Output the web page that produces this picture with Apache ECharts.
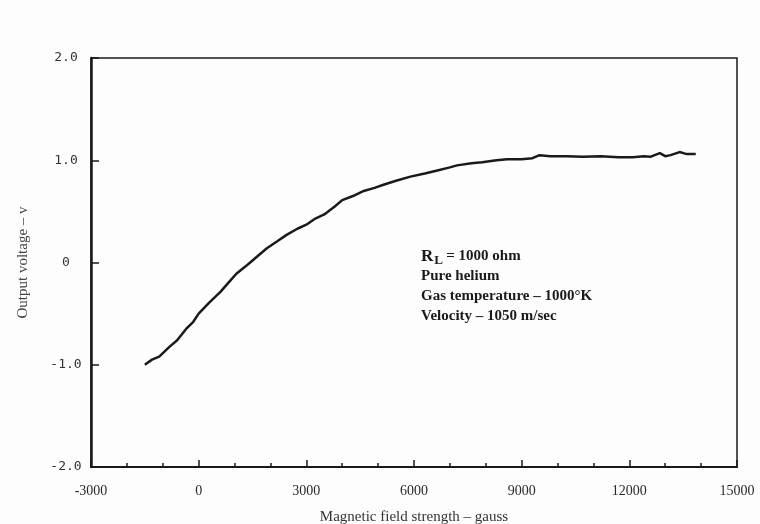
<!DOCTYPE html>
<html>
<head>
<meta charset="utf-8">
<script src="https://cdn.jsdelivr.net/npm/echarts@6/dist/echarts.min.js"></script>
<style>html,body{margin:0;padding:0;background:#fdfdfd;}#c{width:760px;height:524px;}</style>
</head>
<body>
<div id="c"></div>
<script>
// Magnetic field strength (gauss)
const fieldGauss = [-1500, -1300, -1100, -800, -600, -350, -150, 0, 300, 600, 850, 1050, 1300, 1500, 1900, 2200, 2450, 2750, 3000, 3250, 3500, 3800, 4000, 4300, 4600, 4900, 5150, 5500, 5900, 6300, 6650, 7000, 7200, 7600, 7900, 8300, 8600, 9000, 9300, 9500, 9800, 10250, 10700, 11200, 11700, 12100, 12400, 12600, 12850, 13000, 13150, 13400, 13600, 13850];
// Output voltage (v)
const outputVolt = [-1.00, -0.95, -0.92, -0.82, -0.76, -0.65, -0.58, -0.50, -0.39, -0.29, -0.19, -0.11, -0.04, 0.02, 0.14, 0.21, 0.27, 0.33, 0.37, 0.43, 0.47, 0.55, 0.61, 0.65, 0.70, 0.73, 0.76, 0.80, 0.84, 0.87, 0.90, 0.93, 0.95, 0.97, 0.98, 1.00, 1.01, 1.01, 1.02, 1.05, 1.04, 1.04, 1.035, 1.04, 1.03, 1.03, 1.04, 1.035, 1.07, 1.04, 1.05, 1.08, 1.06, 1.06];
const xTicks = [-3000, 0, 3000, 6000, 9000, 12000, 15000];
const yTicks = [-2.0, -1.0, 0, 1.0, 2.0];
const notes = ["= 1000 ohm", "Pure helium", "Gas temperature \u2013 1000\u00B0K", "Velocity \u2013 1050 m/sec"];

const serif = '"Liberation Serif", "DejaVu Serif", serif';
const ink = '#1a1a1a';
const chart = echarts.init(document.getElementById('c'), null, {renderer: 'canvas'});
const pts = fieldGauss.map((x, i) => [x, outputVolt[i]]);

chart.setOption({
  animation: false,
  backgroundColor: '#fdfdfd',
  grid: {left: 91, right: 23, top: 58, bottom: 57, outerBoundsMode: 'none', containLabel: false,
         show: true, borderColor: ink, borderWidth: 1.5, backgroundColor: 'transparent'},
  xAxis: {
    type: 'value', min: xTicks[0], max: xTicks[xTicks.length - 1], interval: 3000,
    name: 'Magnetic field strength \u2013 gauss', nameLocation: 'middle', nameGap: 43,
    nameTextStyle: {fontFamily: serif, fontSize: 15, color: '#333'},
    axisLine: {show: true, onZero: false, lineStyle: {color: ink, width: 2}},
    axisTick: {show: true, inside: true, length: 7, lineStyle: {color: ink, width: 1.5}},
    minorTick: {show: true, splitNumber: 3, length: 4, lineStyle: {color: ink, width: 1.5}},
    splitLine: {show: false},
    axisLabel: {margin: 17, fontFamily: serif, fontSize: 14, color: '#2a2a2a', showMinLabel: true, showMaxLabel: true,
      formatter: v => xTicks.includes(v) ? String(v) : ''}
  },
  yAxis: {
    type: 'value', min: yTicks[0], max: yTicks[yTicks.length - 1], interval: 1,
    name: 'Output voltage \u2013 v', nameLocation: 'middle', nameGap: 60, nameRotate: 90,
    nameTextStyle: {fontFamily: serif, fontSize: 15, color: '#444'},
    axisLine: {show: true, onZero: false, lineStyle: {color: ink, width: 2.5}},
    axisTick: {show: true, inside: true, length: 8, lineStyle: {color: ink, width: 1.5}},
    splitLine: {show: false},
    axisLabel: {margin: 25, align: 'center', fontFamily: '"DejaVu Sans Mono", monospace', fontSize: 13, color: '#333',
      formatter: v => v === 0 ? '0' : v.toFixed(1)}
  },
  series: [{
    type: 'line', data: pts, symbol: 'none', smooth: false,
    lineStyle: {color: ink, width: 2.5}
  }],
  graphic: [{
    type: 'group', left: 421, top: 248,
    children: [
      {type: 'text', left: 0, top: 0, style: {text: '{r|R}{s|L} {t|' + notes[0] + '}',
        rich: {r: {fontFamily: serif, fontSize: 17, fontWeight: 'bold', fill: ink},
               s: {fontFamily: serif, fontSize: 13, fontWeight: 'bold', fill: ink, verticalAlign: 'bottom', padding: [8, 0, 0, 1]},
               t: {fontFamily: serif, fontSize: 15, fontWeight: 'bold', fill: ink}}}},
      {type: 'text', left: 0, top: 21, style: {text: notes[1], font: 'bold 15px ' + serif, fill: ink}},
      {type: 'text', left: 0, top: 41, style: {text: notes[2], font: 'bold 15px ' + serif, fill: ink}},
      {type: 'text', left: 0, top: 61, style: {text: notes[3], font: 'bold 15px ' + serif, fill: ink}}
    ]
  }]
});
</script>
</body>
</html>
